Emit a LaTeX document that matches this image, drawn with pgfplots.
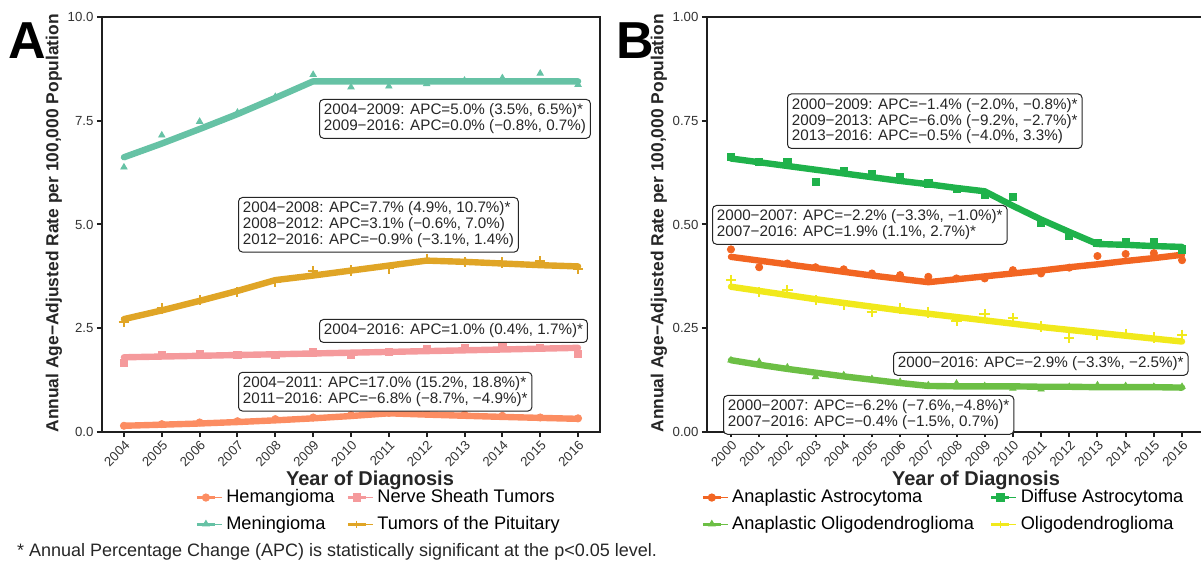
\documentclass[border=0pt]{standalone}
\usepackage{fontspec}
\setmainfont{Liberation Sans}
\usepackage{pgfplots}
\usepackage{pgfplotstable}
\pgfplotsset{compat=1.18}

\definecolor{hemc}{HTML}{FC8D62}
\definecolor{nerc}{HTML}{F59A9C}
\definecolor{menc}{HTML}{66C2A5}
\definecolor{pitc}{HTML}{E0A526}
\definecolor{aac}{HTML}{F26522}
\definecolor{dac}{HTML}{1FB24B}
\definecolor{aoc}{HTML}{6CBF45}
\definecolor{olc}{HTML}{F1E91C}

% panel A: observed rates and joinpoint fits
\pgfplotstableread{
year hem  hemfit ner  nerfit men  menfit pit  pitfit
2004 0.15 0.150  1.67 1.800  6.38 6.62   2.65 2.72
2005 0.19 0.176  1.85 1.818  7.15 6.95   2.98 2.93
2006 0.23 0.205  1.87 1.836  7.48 7.30   3.18 3.16
2007 0.26 0.240  1.86 1.855  7.70 7.66   3.37 3.40
2008 0.31 0.281  1.86 1.873  8.08 8.05   3.61 3.66
2009 0.35 0.329  1.92 1.892  8.61 8.45   3.88 3.77
2010 0.41 0.385  1.87 1.911  8.31 8.45   3.89 3.89
2011 0.46 0.450  1.93 1.930  8.33 8.45   3.94 4.01
2012 0.45 0.419  1.99 1.949  8.39 8.45   4.17 4.13
2013 0.42 0.391  2.03 1.968  8.47 8.45   4.09 4.10
2014 0.39 0.364  2.07 1.988  8.53 8.45   4.08 4.06
2015 0.35 0.340  2.03 2.008  8.64 8.45   4.12 4.02
2016 0.33 0.317  1.88 2.028  8.37 8.45   3.93 3.99
}\tabA

% panel B
\pgfplotstableread{
year aa    aafit da    dafit ao    aofit ol    olfit
2000 0.440 0.422 0.663 0.659 0.173 0.173 0.366 0.350
2001 0.397 0.413 0.651 0.650 0.169 0.162 0.338 0.340
2002 0.406 0.404 0.650 0.641 0.156 0.152 0.342 0.330
2003 0.397 0.395 0.603 0.632 0.133 0.143 0.318 0.320
2004 0.392 0.386 0.629 0.623 0.137 0.134 0.306 0.311
2005 0.382 0.377 0.622 0.614 0.128 0.126 0.290 0.302
2006 0.378 0.369 0.615 0.605 0.121 0.118 0.298 0.293
2007 0.374 0.361 0.599 0.597 0.113 0.111 0.288 0.285
2008 0.370 0.368 0.585 0.588 0.117 0.110 0.268 0.277
2009 0.370 0.375 0.571 0.580 0.111 0.110 0.284 0.269
2010 0.390 0.382 0.567 0.545 0.105 0.110 0.274 0.261
2011 0.382 0.389 0.503 0.512 0.103 0.109 0.254 0.253
2012 0.396 0.397 0.473 0.482 0.109 0.109 0.226 0.246
2013 0.424 0.404 0.455 0.453 0.113 0.108 0.234 0.239
2014 0.429 0.412 0.457 0.451 0.111 0.108 0.236 0.232
2015 0.431 0.419 0.457 0.448 0.109 0.108 0.228 0.225
2016 0.414 0.427 0.440 0.446 0.109 0.107 0.234 0.218
}\tabB

\pgfplotsset{
  panel/.style={
    scale only axis, height=207.5pt,
    axis line style={line width=1.4pt, black!88},
    tick align=outside, tick pos=left,
    major tick length=2.6pt,
    tick style={line width=1pt, black!88},
    ticklabel style={font=\fontsize{6.6}{7.5}\selectfont, text=black!80},
    /pgf/number format/assume math mode=true,
    x tick label style={rotate=45, anchor=north east, inner sep=0.8pt,
      /pgf/number format/1000 sep={}},
    y tick label style={inner sep=1.5pt},
    legend style={draw=none, fill=none, inner sep=0pt, anchor=west,
      font=\fontsize{9.1}{10}\selectfont,
      row sep=1.2pt},
    legend columns=2, legend cell align=left,
    legend image code/.code={
      \path (0pt,0pt) -- (12.5pt,0pt);
      \draw[#1, line width=1.4pt] (0pt,0pt) -- (9pt,0pt);
      \draw[#1, line width=0.5pt, mark size=1.8pt] plot coordinates {(4.5pt,0pt)};},
  },
  fit/.style={line width=3.2pt, line join=round, line cap=round, mark=none, forget plot},
  pts/.style={only marks, mark size=1.8pt, forget plot},
}
\tikzset{
  ann/.style={draw=black!85, line width=0.5pt, rounded corners=2pt, fill=white,
    inner sep=2.2pt, align=left, anchor=north west,
    font=\fontsize{7.6}{7.9}\selectfont, text=black!85},
}

\begin{document}
\begin{tikzpicture}[x=1pt, y=1pt]
\begin{axis}[panel,
  at={(51pt,67.5pt)}, anchor=south west, width=249pt,
  xmin=2003.42, xmax=2016.58, ymin=0, ymax=10,
  xtick={2004,2005,...,2016}, ytick={0,2.5,5,7.5,10},
  y tick label style={/pgf/number format/.cd, fixed, fixed zerofill, precision=1},
  legend style={at={(0.187,-0.19)},
    /tikz/every even column/.append style={column sep=4pt}},
]
\addlegendimage{hemc, mark=*}
\addlegendentry{Hemangioma}
\addlegendimage{nerc, mark=square*}
\addlegendentry{Nerve Sheath Tumors}
\addlegendimage{menc, mark=triangle*}
\addlegendentry{Meningioma}
\addlegendimage{pitc, mark=+}
\addlegendentry{Tumors of the Pituitary}
\addplot[fit, hemc] table[x=year, y=hemfit] {\tabA};
\addplot[fit, nerc] table[x=year, y=nerfit] {\tabA};
\addplot[fit, menc] table[x=year, y=menfit] {\tabA};
\addplot[fit, pitc] table[x=year, y=pitfit] {\tabA};
\addplot[pts, hemc, mark=*] table[x=year, y=hem] {\tabA};
\addplot[pts, nerc, mark=square*] table[x=year, y=ner] {\tabA};
\addplot[pts, menc, mark=triangle*] table[x=year, y=men] {\tabA};
\addplot[pts, pitc, mark=+, mark options={line width=1pt}, mark size=2.6pt] table[x=year, y=pit] {\tabA};
\end{axis}

\begin{axis}[panel,
  at={(353.5pt,67.5pt)}, anchor=south west, width=249.5pt,
  xmin=1999.15, xmax=2016.85, ymin=0, ymax=1,
  xtick={2000,2001,...,2016}, ytick={0,0.25,0.5,0.75,1},
  y tick label style={/pgf/number format/.cd, fixed, fixed zerofill, precision=2},
  legend style={at={(-0.012,-0.19)},
    /tikz/every even column/.append style={column sep=6pt}},
]
\addlegendimage{aac, mark=*}
\addlegendentry{Anaplastic Astrocytoma}
\addlegendimage{dac, mark=square*}
\addlegendentry{Diffuse Astrocytoma}
\addlegendimage{aoc, mark=triangle*}
\addlegendentry{Anaplastic Oligodendroglioma}
\addlegendimage{olc, mark=+}
\addlegendentry{Oligodendroglioma}
\addplot[fit, aac] table[x=year, y=aafit] {\tabB};
\addplot[fit, dac] table[x=year, y=dafit] {\tabB};
\addplot[fit, aoc] table[x=year, y=aofit] {\tabB};
\addplot[fit, olc] table[x=year, y=olfit] {\tabB};
\addplot[pts, aac, mark=*] table[x=year, y=aa] {\tabB};
\addplot[pts, dac, mark=square*] table[x=year, y=da] {\tabB};
\addplot[pts, aoc, mark=triangle*] table[x=year, y=ao] {\tabB};
\addplot[pts, olc, mark=+, mark options={line width=1pt}, mark size=2.6pt] table[x=year, y=ol] {\tabB};
\end{axis}

% APC annotations
\node[ann] at (159.5,234) {2004−2009: APC=5.0\% (3.5\%, 6.5\%)*\\2009−2016: APC=0.0\% (−0.8\%, 0.7\%)};
\node[ann] at (119,185) {2004−2008: APC=7.7\% (4.9\%, 10.7\%)*\\2008−2012: APC=3.1\% (−0.6\%, 7.0\%)\\2012−2016: APC=−0.9\% (−3.1\%, 1.4\%)};
\node[ann] at (159.5,124) {2004−2016: APC=1.0\% (0.4\%, 1.7\%)*};
\node[ann] at (119,97.6) {2004−2011: APC=17.0\% (15.2\%, 18.8\%)*\\2011−2016: APC=−6.8\% (−8.7\%, −4.9\%)*};
\node[ann] at (393.5,236.8) {2000−2009: APC=−1.4\% (−2.0\%, −0.8\%)*\\2009−2013: APC=−6.0\% (−9.2\%, −2.7\%)*\\2013−2016: APC=−0.5\% (−4.0\%, 3.3\%)};
\node[ann] at (356,181) {2000−2007: APC=−2.2\% (−3.3\%, −1.0\%)*\\2007−2016: APC=1.9\% (1.1\%, 2.7\%)*};
\node[ann] at (446.5,107.6) {2000−2016: APC=−2.9\% (−3.3\%, −2.5\%)*};
\node[ann] at (361.5,86) {2000−2007: APC=−6.2\% (−7.6\%,−4.8\%)*\\2007−2016: APC=−0.4\% (−1.5\%, 0.7\%)};

% axis titles and panel letters
\node[font=\bfseries\fontsize{10}{11}\selectfont, text=black!85] at (185,43.5) {Year of Diagnosis};
\node[font=\bfseries\fontsize{10}{11}\selectfont, text=black!85] at (488,43.5) {Year of Diagnosis};
\node[font=\bfseries\fontsize{8.7}{10}\selectfont, text=black!85, rotate=90] at (27,171.8) {Annual Age−Adjusted Rate per 100,000 Population};
\node[font=\bfseries\fontsize{8.7}{10}\selectfont, text=black!85, rotate=90] at (329.5,171.8) {Annual Age−Adjusted Rate per 100,000 Population};
\node[font=\bfseries\fontsize{26}{28}\selectfont] at (13.5,263) {A};
\node[font=\bfseries\fontsize{26}{28}\selectfont] at (317.5,263) {B};
\node[anchor=west, font=\fontsize{9}{10}\selectfont, text=black!85] at (5,7.5) {* Annual Percentage Change (APC) is statistically significant at the p<0.05 level.};

\pgfresetboundingbox
\path[use as bounding box] (0,0) rectangle (600.5,283.5);
\end{tikzpicture}
\end{document}
